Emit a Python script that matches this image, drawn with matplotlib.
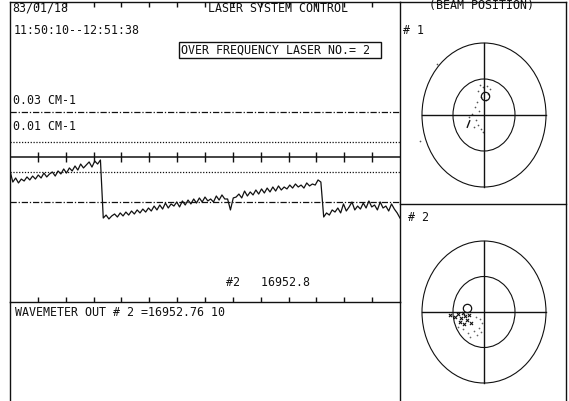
import numpy as np
import matplotlib.pyplot as plt
from matplotlib.patches import Circle, Rectangle

W, H = 569, 402

# frequency deviation of laser no. 2, in units of 0.001 cm-1 (one value per plotter step)
dev_before_jump = [-9.3, -16.7, -14.0, -17.3, -14.7, -16.0, -13.3, -15.3, -12.7, -14.7, -12.0,
                   -14.0, -10.7, -13.3, -11.3, -10.0, -12.7, -9.3, -11.3, -8.0, -10.7, -7.3,
                   -9.3, -6.0, -8.7, -4.7, -7.3, -5.3, -3.3, -6.7, -2.7, -4.7, -2.0]
dev_middle = [-40.7, -38.7, -41.3, -39.3, -38.0, -40.0, -37.3, -39.3, -36.7, -38.7, -36.0,
              -38.0, -35.3, -37.3, -34.7, -36.7, -34.0, -36.0, -32.7, -35.3, -32.0, -34.7,
              -30.7, -34.0, -31.3, -32.7, -30.0, -33.3, -29.3, -32.0, -28.7, -31.3, -28.0,
              -30.7, -27.3, -30.0, -26.7, -29.3, -28.0, -30.0, -26.0, -28.7, -25.3, -28.0,
              -28.0, -35.3, -27.3, -26.7, -24.7, -27.3, -22.7, -26.0, -23.3, -25.3, -22.0,
              -24.7, -21.3, -24.0, -20.7, -23.3, -20.0, -22.7, -19.3, -22.0, -20.0, -21.3,
              -18.7, -20.7, -18.0, -20.0, -18.7, -20.7, -17.3, -19.3, -18.0, -18.7, -15.3,
              -16.7]
dev_after_jump = [-40.0, -37.3, -38.7, -35.3, -36.7, -34.0, -37.3, -31.3, -36.0, -33.3, -30.0,
                  -35.3, -32.7, -34.7, -30.7, -34.0, -29.3, -33.3, -32.0, -35.3, -30.0, -34.0,
                  -32.7, -36.0, -31.3, -34.7, -37.3, -40.7]
limit_fine = 10     # 0.01 CM-1
limit_coarse = 30   # 0.03 CM-1

# beam position monitors (outer ring = 1)
beam1_x = [-0.06, -0.02, 0.05, 0.10, -0.10, 0.00, 0.06, -0.05, 0.03, -0.11, -0.15, -0.08,
           -0.19, -0.24, -0.13, -0.10, -0.05, -0.02, -0.16, -0.76, -1.03]
beam1_y = [0.42, 0.39, 0.40, 0.36, 0.33, 0.32, 0.29, 0.25, 0.21, 0.18, 0.11, 0.06,
           0.01, -0.03, -0.07, -0.14, -0.19, -0.24, -0.17, 0.71, -0.36]
beam1_ref = [0.02, 0.26]
beam1_trail_x = [-0.27, -0.23]
beam1_trail_y = [-0.17, -0.08]

beam2_dark_x = [-0.47, -0.42, -0.37, -0.34, -0.31, -0.27, -0.24, -0.39, -0.32, -0.21, -0.55]
beam2_dark_y = [-0.07, -0.03, -0.08, -0.01, -0.06, -0.11, -0.04, -0.14, -0.17, -0.15, -0.04]
beam2_x = [-0.13, -0.06, -0.03, -0.08, -0.16, -0.26, -0.34, -0.23, -0.11, -0.05, -0.42]
beam2_y = [-0.07, -0.10, -0.15, -0.23, -0.27, -0.30, -0.24, -0.35, -0.32, -0.28, -0.21]
beam2_ref = [-0.27, 0.06]

date_text = "83/01/18"
time_text = "11:50:10--12:51:38"
title_text = "LASER SYSTEM CONTROL"
alarm_text = "OVER FREQUENCY LASER NO.= 2"
coarse_label = "0.03 CM-1"
fine_label = "0.01 CM-1"
reading_text = "#2   16952.8"
wavemeter_text = "WAVEMETER OUT # 2 =16952.76 10"
beam_title = "(BEAM POSITION)"


def px_rect(x0, y0, x1, y1):
    # pixel box (top-left origin) -> figure fraction rect
    return [x0 / W, 1 - y1 / H, (x1 - x0) / W, (y1 - y0) / H]


FONT = dict(family="DejaVu Sans Mono", fontsize=8.4, color="#111111")
INK = "#111111"

fig = plt.figure(figsize=(W / 100, H / 100), dpi=100)
fig.patch.set_facecolor("white")

# canvas in pixel units for frames and text
cv = fig.add_axes([0, 0, 1, 1])
cv.set_xlim(0, W)
cv.set_ylim(H, 0)
cv.axis("off")

# --- trace panel
deviation = dev_before_jump + dev_middle + dev_after_jump
n = len(deviation)
center_px, px_per_unit = 158, 1.5
ax = fig.add_axes(px_rect(10, 3, 400, 303))
ax.patch.set_alpha(0)
ax.set_xlim(0, n - 1)
ax.set_ylim((center_px - 303) / px_per_unit, (center_px - 3) / px_per_unit)
for sp in ax.spines.values():
    sp.set_linewidth(1.0)
    sp.set_color(INK)
ticks = np.linspace(0, n - 1, 15)[1:-1]
ax.set_xticks(ticks)
ax.set_yticks([])
ax.tick_params(axis="x", direction="in", top=True, bottom=True, length=3.5, width=1,
               color=INK, labelbottom=False)

for lim in (limit_coarse, -limit_coarse):
    ax.axhline(lim, color=INK, lw=0.9, ls=(0, (5, 1.5, 1, 1.5)))
for lim in (limit_fine, -limit_fine):
    ax.axhline(lim, color=INK, lw=0.9, ls=(0, (1, 1.3)))
ax.axhline(0, color=INK, lw=1.1)
ax.plot(ticks, np.zeros_like(ticks), "|", color=INK, ms=7, mew=1)
ax.plot(np.arange(n), deviation, color=INK, lw=0.9)

# --- frames
cv.plot([10, 10], [303, 402], color=INK, lw=1)
cv.plot([400, 400], [303, 402], color=INK, lw=1)
cv.plot([400, 566], [3, 3], color=INK, lw=1)
cv.plot([566, 566], [3, 402], color=INK, lw=1)
cv.plot([400, 566], [205, 205], color=INK, lw=1)
cv.add_patch(Rectangle((179, 43), 202, 16, fill=False, lw=1, ec=INK))

# --- text
cv.text(12, 8, date_text, va="center", ha="left", **FONT)
cv.text(14, 31, time_text, va="center", ha="left", **FONT)
cv.text(208, 8, title_text, va="center", ha="left", **FONT)
cv.text(181, 50, alarm_text, va="center", ha="left", **FONT)
cv.text(13, 101, coarse_label, va="center", ha="left", **FONT)
cv.text(13, 127, fine_label, va="center", ha="left", **FONT)
cv.text(226, 283, reading_text, va="center", ha="left", **FONT)
cv.text(15, 313, wavemeter_text, va="center", ha="left", **FONT)
cv.text(482, 6, beam_title, va="center", ha="center", **FONT)
cv.text(403, 30, "# 1", va="center", ha="left", **FONT)
cv.text(408, 218, "# 2", va="center", ha="left", **FONT)


# --- beam position panels
def beam_panel(box, cx, cy, rx, ry):
    x0, y0, x1, y1 = box
    b = fig.add_axes(px_rect(*box))
    b.patch.set_alpha(0)
    b.axis("off")
    b.set_xlim((x0 - cx) / rx, (x1 - cx) / rx)
    b.set_ylim((cy - y1) / ry, (cy - y0) / ry)
    for r in (1.0, 0.5):
        b.add_patch(Circle((0, 0), r, fill=False, lw=0.8, ec=INK))
    b.plot([-1, 1], [0, 0], color=INK, lw=1)
    b.plot([0, 0], [-1, 1], color=INK, lw=1)
    return b


b1 = beam_panel((400, 3, 566, 205), 484, 116, 62, 72)
b1.scatter(beam1_x, beam1_y, s=1.5, color="#555555", lw=0)
b1.plot(beam1_trail_x, beam1_trail_y, color=INK, lw=1)
b1.plot(*beam1_ref, "o", mfc="none", mec=INK, ms=6, mew=0.9)

b2 = beam_panel((400, 205, 566, 398), 484, 313, 62, 71)
b2.scatter(beam2_x, beam2_y, s=1.5, color="#666666", lw=0)
b2.scatter(beam2_dark_x, beam2_dark_y, s=5, color=INK, marker="x", lw=0.8)
b2.plot(*beam2_ref, "o", mfc="none", mec=INK, ms=6, mew=0.9)

fig.savefig("out.png", dpi=100)
